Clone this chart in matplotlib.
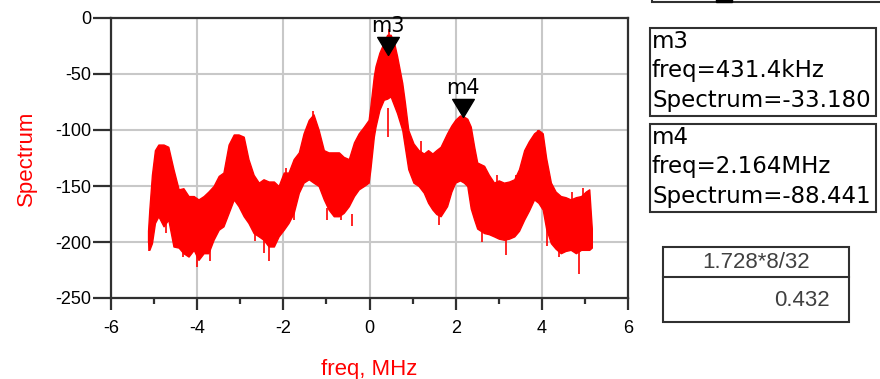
# -----------------------------
# Spectrum plot (ADS style) with markers m3 / m4
# -----------------------------
import matplotlib
matplotlib.use("Agg")
import matplotlib.pyplot as plt
from matplotlib.path import Path
from matplotlib.patches import Rectangle

plt.rcParams['font.family'] = ['Liberation Sans', 'DejaVu Sans']
plt.rcParams['axes.unicode_minus'] = False

# -----------------------------
# Data (freq in MHz, spectrum in dB)
# top / bottom edge of the noisy trace
# -----------------------------
freq_mhz = [-5.14, -5.11, -5.05, -4.98, -4.90, -4.78, -4.67, -4.55, -4.43, -4.32,
            -4.20, -4.08, -3.97, -3.85, -3.74, -3.62, -3.50, -3.39, -3.27, -3.15,
            -3.04, -2.92, -2.81, -2.69, -2.57, -2.46, -2.34, -2.22, -2.11, -1.99,
            -1.88, -1.76, -1.64, -1.53, -1.41, -1.30, -1.18, -1.06, -0.95, -0.83,
            -0.71, -0.60, -0.48, -0.36, -0.25, -0.13, -0.02, 0.02, 0.10, 0.14,
            0.23, 0.33, 0.41, 0.49, 0.57, 0.64, 0.76, 0.82, 0.90, 1.02,
            1.14, 1.26, 1.36, 1.46, 1.55, 1.65, 1.80, 1.90, 1.99, 2.10,
            2.19, 2.27, 2.35, 2.43, 2.50, 2.66, 2.77, 2.89, 3.00, 3.12,
            3.24, 3.36, 3.47, 3.59, 3.70, 3.82, 3.92, 4.02, 4.10, 4.21,
            4.32, 4.44, 4.55, 4.67, 4.79, 4.91, 5.02, 5.10, 5.16]
spec_top = [-190, -171, -140, -118, -113, -113, -115, -135, -153, -152,
            -159, -159, -162, -159, -155, -150, -141, -138, -113, -104,
            -104, -106, -126, -140, -147, -144, -146, -146, -150, -138,
            -138, -126, -120, -103, -91, -86, -100, -118, -120, -120,
            -120, -124, -126, -111, -103, -97, -91, -79, -52, -43,
            -31, -22, -15, -15, -22, -34, -58, -75, -100, -112,
            -118, -121, -118, -121, -118, -115, -103, -96, -91, -87,
            -88, -90, -97, -115, -129, -132, -140, -147, -145, -147,
            -146, -144, -135, -118, -110, -103, -100, -103, -125, -147,
            -155, -159, -160, -162, -160, -159, -155, -153, -188]
spec_bottom = [-200, -207, -201, -183, -177, -186, -180, -204, -205, -210,
               -213, -207, -216, -210, -210, -198, -189, -186, -174, -162,
               -168, -177, -183, -192, -195, -198, -204, -204, -195, -189,
               -183, -174, -156, -147, -144, -147, -150, -162, -171, -177,
               -177, -174, -168, -159, -153, -150, -147, -135, -106, -97,
               -82, -73, -72, -70, -78, -85, -100, -115, -135, -147,
               -150, -156, -165, -171, -175, -177, -168, -155, -147, -145,
               -147, -150, -170, -180, -188, -192, -193, -195, -197, -198,
               -197, -195, -190, -180, -172, -162, -165, -171, -188, -201,
               -206, -210, -208, -207, -210, -207, -207, -207, -205]

# single noise spikes sticking out of the band: (freq, from, to)
spike_freq = [-5.11, -4.72, -4.51, -4.32, -4.01, -3.71, -2.65, -2.46, -2.34, -1.76,
              -0.98, -0.67, -0.40, -1.94, -1.30, 0.42, 0.45, 2.20, 3.16, 3.92,
              4.87, 4.12, 4.40, 2.62, 1.20, 1.62, 4.95, 4.70, 3.40, 2.95]
spike_from = [-200, -180, -200, -205, -210, -205, -190, -195, -200, -170,
              -170, -175, -175, -138, -90, -80, -20, -95, -195, -108,
              -205, -185, -205, -185, -150, -170, -160, -165, -150, -150]
spike_to = [-208, -192, -204, -213, -222, -217, -199, -210, -217, -180,
            -180, -180, -186, -134, -83, -106, -10, -85, -212, -100,
            -229, -204, -213, -200, -110, -185, -152, -155, -140, -140]

# markers
marker_names = ["m3", "m4"]
marker_freq = [0.4314, 2.164]
marker_value = [-33.180, -88.441]
marker_freq_text = ["431.4kHz", "2.164MHz"]

eq_text = "1.728*8/32"
eq_value = "0.432"

red = "#ff0000"

fig = plt.figure(figsize=(8.8, 3.79), dpi=100)
ax = fig.add_axes([111 / 880, 1 - 298 / 379, 517 / 880, 280 / 379])

# band of the noisy spectrum
ax.fill_between(freq_mhz, spec_bottom, spec_top, color=red, lw=1.0, zorder=3)
ax.vlines(spike_freq, spike_from, spike_to, color=red, lw=1.2, zorder=3)

# markers: downward triangle with its tip on the data point
tri = Path([(0, 0), (-0.6, 1), (0.6, 1), (0, 0)])
for name, f, v in zip(marker_names, marker_freq, marker_value):
    ax.plot([f], [v], marker=tri, markersize=26, color="black", ls="none", zorder=5)
    ax.annotate(name, (f, v), xytext=(0, 13.5), textcoords="offset points",
                ha="center", va="bottom", fontsize=15, family="DejaVu Sans", zorder=6)

ax.set_xlim(-6, 6)
ax.set_ylim(-250, 0)
ax.set_xticks(range(-6, 7, 2))
ax.set_xticks(range(-5, 6, 2), minor=True)
ax.set_yticks(range(-250, 1, 50))
ax.grid(True, which="major", color="#c8c8c8", lw=1.5, zorder=0)
ax.set_axisbelow(True)

for s in ax.spines.values():
    s.set_color("#303030")
    s.set_linewidth(1.6)

ax.tick_params(axis="y", direction="out", length=13, width=1.6, color="#303030",
               labelsize=13, pad=1)
ax.tick_params(axis="x", which="major", direction="out", length=8.5, width=1.6,
               color="#303030", labelsize=13, pad=7)
ax.tick_params(axis="x", which="minor", direction="out", length=4.5, width=1.6,
               color="#303030")

ax.set_ylabel("Spectrum", color=red, fontsize=16, labelpad=13)
ax.set_xlabel("freq, MHz", color=red, fontsize=16, labelpad=16)

# -----------------------------
# Marker readouts and equation box (figure pixel coordinates)
# -----------------------------
ov = fig.add_axes([0, 0, 1, 1], facecolor="none")
ov.set_xlim(0, 880)
ov.set_ylim(379, 0)
ov.axis("off")

# partly visible box at the top edge
ov.add_patch(Rectangle((652, -40), 240, 42, fill=False, ec="#303030", lw=1.5))
ov.add_patch(Rectangle((716, -2), 16, 4, color="black"))

box_top = [28, 124]
for name, ftxt, v, y0 in zip(marker_names, marker_freq_text, marker_value, box_top):
    ov.add_patch(Rectangle((650, y0), 226, 88, fill=False, ec="#303030", lw=1.5))
    lines = [name, "freq=" + ftxt, "Spectrum=%.3f" % v]
    for i, t in enumerate(lines):
        ov.text(652, y0 + 13 + i * 30, t, fontsize=16.5, family="DejaVu Sans",
                va="center", ha="left")

ov.add_patch(Rectangle((663, 247), 186, 75, fill=False, ec="#303030", lw=1.5))
ov.plot([663, 849], [277, 277], color="#303030", lw=1.5)
ov.text(756, 262, eq_text, fontsize=16, ha="center", va="center", color="#404040")
ov.text(830, 300, eq_value, fontsize=16, ha="right", va="center", color="#404040")

fig.savefig("out.png", dpi=100)
